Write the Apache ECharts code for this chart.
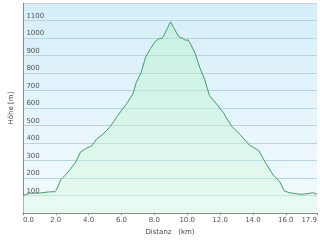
<!DOCTYPE html>
<html><head><meta charset="utf-8">
<script src="https://cdn.jsdelivr.net/npm/echarts@6/dist/echarts.min.js"></script>
<style>html,body{margin:0;padding:0;background:#fff}#c{width:320px;height:241px}</style>
</head><body><div id="c"></div>
<script>
const distanceKm = [0.0,0.4,1.0,1.56,1.95,2.05,2.3,2.63,2.92,3.22,3.5,3.8,4.19,4.48,4.86,5.25,5.54,5.73,5.83,6.32,6.7,6.9,7.19,7.48,7.77,8.06,8.26,8.45,8.58,8.74,8.99,9.22,9.48,9.71,9.9,10.0,10.05,10.19,10.48,10.77,11.06,11.35,11.84,12.23,12.33,12.71,13.2,13.78,14.36,14.74,15.23,15.62,15.91,16.2,16.88,17.36,17.65,17.9];
const elevationM = [100,113,114,121,122,135,190,222,255,292,348,367,385,422,450,487,524,552,561,626,681,746,802,894,940,981,996,998,1014,1046,1092,1052,1008,998,987,978,990,968,913,830,764,672,617,570,552,496,450,389,357,292,218,181,126,117,107,111,117,107];
const xTicks = {min:0, max:17.9, interval:2};
const yTicks = {min:0, max:1200, interval:100};

const chart = echarts.init(document.getElementById('c'), null, {renderer:'canvas'});
const font = 'DejaVu Sans';
chart.setOption({
  animation:false,
  backgroundColor:'#ffffff',
  grid:{left:10,right:3,top:3,bottom:22,show:true,borderWidth:0,
    backgroundColor:new echarts.graphic.LinearGradient(0,0,0,1,[
      {offset:0,color:'#d5eef9'},{offset:1,color:'#f4fbfd'}])},
  xAxis:{type:'value',min:xTicks.min,max:xTicks.max,interval:xTicks.interval,
    name:'Distanz   (km)',nameLocation:'middle',nameGap:12,
    nameTextStyle:{fontFamily:font,fontSize:7,color:'#444'},
    axisLine:{lineStyle:{color:'#8a8a8a',width:1}},
    axisTick:{show:true,length:2,lineStyle:{color:'#8a8a8a'}},
    axisLabel:{fontFamily:font,fontSize:7,color:'#555',margin:4,
      alignMinLabel:'left',alignMaxLabel:'right',
      formatter:v=>v.toFixed(1)},
    splitLine:{show:false}},
  yAxis:{type:'value',min:yTicks.min,max:yTicks.max,interval:yTicks.interval,
    name:'Höhe [m]',nameLocation:'middle',nameGap:5,nameRotate:90,
    nameTextStyle:{fontFamily:font,fontSize:7,color:'#444',verticalAlign:'middle'},
    axisLine:{show:true,lineStyle:{color:'#8a8a8a',width:1}},
    axisTick:{show:false},
    axisLabel:{inside:true,fontFamily:font,fontSize:7,color:'#555',margin:3.5,
      verticalAlign:'bottom',padding:[0,0,1,0],
      showMinLabel:false,showMaxLabel:false,
      formatter:v=>String(v)},
    splitLine:{show:true,lineStyle:{color:'#b9d3de',width:1}}},
  series:[{type:'line',data:distanceKm.map((d,i)=>[d,elevationM[i]]),
    symbol:'none',smooth:false,
    lineStyle:{color:'#3f9d63',width:1},
    areaStyle:{color:new echarts.graphic.LinearGradient(0,0,0,1,[
      {offset:0,color:'rgba(175,240,195,0.55)'},{offset:1,color:'rgba(215,250,225,0.6)'}])}}]
});
</script></body></html>
